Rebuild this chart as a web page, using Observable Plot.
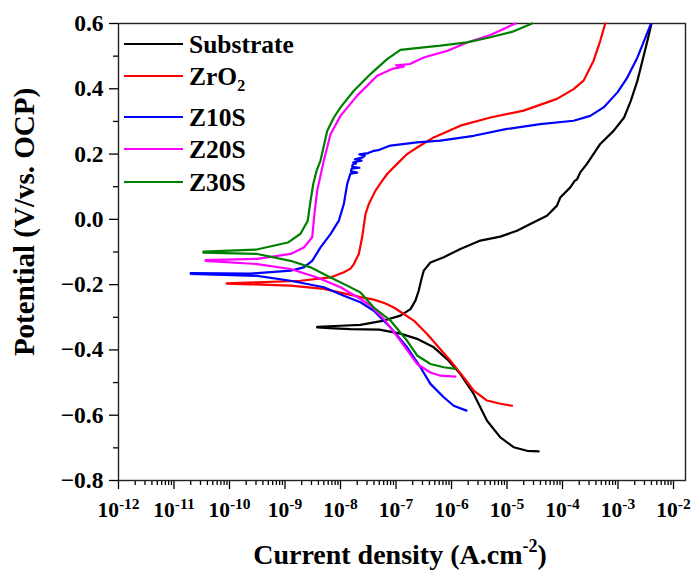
<!DOCTYPE html>
<html><head><meta charset="utf-8">
<script src="https://cdn.jsdelivr.net/npm/d3@7"></script>
<script src="https://cdn.jsdelivr.net/npm/@observablehq/plot@0.6"></script>
<style>
html,body{margin:0;padding:0;background:#fff;}
#chart{position:relative;width:693px;height:572px;}
#chart svg, #chart svg text{font-family:"Liberation Serif","Times New Roman",serif !important;font-weight:bold;}
</style></head><body><div id="chart"></div>
<script>
// ---- data (log10 current density, potential V vs OCP), ordered along the scan ----
const seriesNames = ["Substrate", "ZrO2", "Z10S", "Z20S", "Z30S"];
const seriesColors = ["#000000", "#ff0000", "#0000ff", "#ff00ff", "#008000"];
const xDecades = [-12, -11, -10, -9, -8, -7, -6, -5, -4, -3, -2];
const yTicks = [-0.8, -0.6, -0.4, -0.2, 0.0, 0.2, 0.4, 0.6];
const yMinorTicks = [-0.7, -0.5, -0.3, -0.1, 0.1, 0.3, 0.5];

const substrate = [
  [-4.43,-0.711],[-4.64,-0.709],[-4.88,-0.698],[-5.12,-0.668],[-5.36,-0.617],[-5.60,-0.535],[-5.84,-0.474],
  [-6.08,-0.428],[-6.32,-0.392],[-6.62,-0.366],[-6.92,-0.350],[-7.30,-0.338],[-7.82,-0.336],[-8.20,-0.333],[-8.42,-0.331],
  [-8.42,-0.329],[-8.00,-0.326],[-7.64,-0.323],[-7.22,-0.310],[-6.92,-0.295],[-6.74,-0.275],[-6.65,-0.249],
  [-6.59,-0.218],[-6.54,-0.182],[-6.50,-0.157],[-6.38,-0.132],[-6.14,-0.116],[-5.84,-0.091],[-5.48,-0.065],
  [-5.12,-0.053],[-4.82,-0.035],[-4.58,-0.014],[-4.28,0.011],[-4.10,0.042],[-4.04,0.067],[-3.86,0.098],
  [-3.78,0.118],[-3.74,0.122],[-3.68,0.144],[-3.56,0.170],[-3.32,0.231],[-3.08,0.271],[-2.89,0.312],[-2.77,0.363],
  [-2.65,0.425],[-2.56,0.486],[-2.47,0.547],[-2.40,0.598]
];
const zro2 = [
  [-4.91,-0.571],[-5.12,-0.565],[-5.36,-0.555],[-5.60,-0.525],[-5.78,-0.484],[-6.02,-0.433],[-6.44,-0.351],
  [-6.68,-0.310],[-6.86,-0.290],[-7.04,-0.270],[-7.20,-0.257],[-7.40,-0.246],[-7.64,-0.238],[-7.88,-0.229],
  [-8.30,-0.213],[-8.90,-0.203],[-9.60,-0.199],[-10.05,-0.197],
  [-10.05,-0.196],[-9.50,-0.193],[-8.72,-0.188],[-8.18,-0.178],[-7.94,-0.162],[-7.82,-0.151],[-7.76,-0.137],
  [-7.67,-0.106],[-7.61,-0.055],[-7.55,0.016],[-7.49,0.047],[-7.37,0.088],[-7.25,0.118],[-7.16,0.139],
  [-6.98,0.170],[-6.80,0.200],[-6.62,0.220],[-6.32,0.251],[-5.84,0.287],[-5.30,0.312],[-4.70,0.333],
  [-4.10,0.369],[-3.80,0.399],[-3.62,0.425],[-3.44,0.486],[-3.32,0.547],[-3.23,0.600]
];
const z10s = [
  [-5.73,-0.586],[-5.96,-0.571],[-6.14,-0.545],[-6.38,-0.504],[-6.56,-0.453],[-6.80,-0.392],[-7.10,-0.331],
  [-7.40,-0.280],[-7.64,-0.254],[-7.94,-0.234],[-8.30,-0.208],[-8.90,-0.188],[-9.50,-0.173],[-10.70,-0.167],
  [-10.70,-0.165],[-9.62,-0.166],[-8.90,-0.157],[-8.66,-0.147],[-8.51,-0.127],[-8.36,-0.086],[-8.18,-0.045],
  [-8.03,-0.004],[-7.94,0.047],[-7.88,0.108],[-7.84,0.130],[-7.82,0.140],[-7.70,0.143],[-7.81,0.147],
  [-7.80,0.155],[-7.66,0.158],[-7.79,0.161],[-7.78,0.168],[-7.72,0.171],[-7.77,0.175],[-7.62,0.180],
  [-7.74,0.184],[-7.60,0.190],[-7.56,0.196],[-7.66,0.199],[-7.50,0.203],[-7.42,0.209],[-7.30,0.213],
  [-7.10,0.226],[-6.62,0.236],[-6.20,0.241],[-5.60,0.256],
  [-5.00,0.277],[-4.40,0.292],[-3.80,0.302],[-3.50,0.317],[-3.26,0.343],[-3.01,0.389],[-2.83,0.435],
  [-2.65,0.496],[-2.53,0.547],[-2.41,0.598]
];
const z20s = [
  [-5.93,-0.482],[-6.20,-0.479],[-6.38,-0.469],[-6.62,-0.443],[-6.92,-0.372],[-7.22,-0.305],[-7.46,-0.264],
  [-7.64,-0.244],[-8.00,-0.208],[-8.42,-0.178],[-8.90,-0.152],[-9.50,-0.137],[-10.43,-0.127],
  [-10.43,-0.125],[-9.50,-0.121],[-8.90,-0.106],[-8.66,-0.086],[-8.51,-0.055],[-8.47,0.017],[-8.42,0.088],
  [-8.30,0.180],[-8.18,0.261],[-8.00,0.317],[-7.70,0.379],[-7.34,0.440],[-7.05,0.462],[-6.86,0.468],
  [-7.00,0.472],[-6.75,0.476],[-6.50,0.496],[-6.08,0.516],[-5.72,0.542],[-5.30,0.565],[-4.85,0.600]
];
const z30s = [
  [-5.93,-0.458],[-6.14,-0.453],[-6.38,-0.443],[-6.62,-0.417],[-6.80,-0.372],[-7.10,-0.310],[-7.40,-0.270],
  [-7.64,-0.224],[-7.88,-0.203],[-8.18,-0.178],[-8.54,-0.147],[-8.90,-0.127],[-9.50,-0.106],[-10.47,-0.102],
  [-10.47,-0.099],[-9.53,-0.093],[-8.95,-0.071],[-8.72,-0.044],[-8.59,-0.004],[-8.54,0.057],[-8.49,0.109],
  [-8.43,0.149],[-8.36,0.180],[-8.24,0.271],[-8.12,0.312],[-8.00,0.343],[-7.76,0.394],[-7.46,0.445],
  [-7.16,0.491],[-6.92,0.519],[-6.50,0.527],[-6.20,0.532],[-5.72,0.542],[-5.30,0.558],[-4.90,0.575],[-4.55,0.600]
];
const allSeries = [substrate, zro2, z10s, z20s, z30s];

const rows = [];
allSeries.forEach((pts, k) => pts.forEach(([lg, e]) => rows.push({name: seriesNames[k], i: Math.pow(10, lg), e})));

const majorX = xDecades.map(d => Math.pow(10, d));
const minorX = [];
xDecades.forEach(d => { if (d < -2) for (let m = 2; m <= 9; m++) minorX.push(m * Math.pow(10, d)); });

const FONT = "'Liberation Serif','Times New Roman',serif";
const plot = Plot.plot({
  width: 693, height: 572,
  marginLeft: 118, marginRight: 8, marginTop: 23, marginBottom: 92,
  style: {fontSize: "21px", color: "#000", background: "#fff", overflow: "visible"},
  x: {type: "log", domain: [1e-12, Math.pow(10, -1.784)]},
  y: {domain: [-0.8, 0.6]},
  color: {domain: seriesNames, range: seriesColors},
  marks: [
    Plot.axisX({ticks: minorX, tickSize: 5, tickFormat: () => "", label: null, strokeWidth: 1.3}),
    Plot.axisX({ticks: majorX, tickSize: 9, tickPadding: 12, tickFormat: d => String(Math.round(Math.log10(d))), label: null, strokeWidth: 1.3}),
    Plot.axisY({ticks: yMinorTicks, tickSize: 5, tickFormat: () => "", label: null, strokeWidth: 1.3}),
    Plot.axisY({ticks: yTicks, tickSize: 9, tickPadding: 6, tickFormat: d => d3.format(".1f")(d).replace("-", "\u2013"), label: null, strokeWidth: 1.3}),
    Plot.frame({stroke: "#222", strokeWidth: 1.4}),
    Plot.line(rows, {x: "i", y: "e", z: "name", stroke: "name", strokeWidth: 2.2, strokeLinejoin: "round"})
  ]
});

const svg = d3.select(plot);
svg.style("font-family", FONT).style("font-weight", "bold");
svg.selectAll('g[aria-label="y-axis tick label"] text').style("font-size", "23.5px");
// superscript exponents on x tick labels
svg.selectAll('g[aria-label="x-axis tick label"] text').each(function () {
  const t = this.textContent;
  if (!t) return;
  const s = d3.select(this).style("font-size", "21.5px");
  s.text("");
  s.append("tspan").text("10");
  s.append("tspan").style("font-size", "15.5px").attr("dy", "-8").text(t);
});

// axis titles
const xt = svg.append("text").attr("x", 400).attr("y", 564).attr("text-anchor", "middle")
  .style("font-size", "28px").attr("fill", "#000");
xt.append("tspan").text("Current density (A.cm");
xt.append("tspan").style("font-size", "18px").attr("dy", "-12").text("-2");
xt.append("tspan").attr("dy", "12").text(")");

svg.append("text").attr("transform", "translate(34,222) rotate(-90)").attr("text-anchor", "middle")
  .style("font-size", "29px").attr("fill", "#000")
  .text("Potential (V/vs. OCP)");

// legend
const legendY = [44, 76, 117, 149, 182];
const lg = svg.append("g").attr("text-anchor", "start");
seriesNames.forEach((n, k) => {
  const y = legendY[k];
  lg.append("line").attr("x1", 124).attr("x2", 183).attr("y1", y).attr("y2", y)
    .attr("stroke", seriesColors[k]).attr("stroke-width", 2.2);
  const t = lg.append("text").attr("x", 189).attr("y", y + 8.5).style("font-size", "25.5px")
    .attr("text-anchor", "start").attr("fill", "#000");
  if (n === "ZrO2") {
    t.append("tspan").text("ZrO");
    t.append("tspan").style("font-size", "16px").attr("dy", "6").text("2");
  } else {
    t.text(n);
  }
});

document.getElementById("chart").appendChild(plot);
</script>
</body></html>
